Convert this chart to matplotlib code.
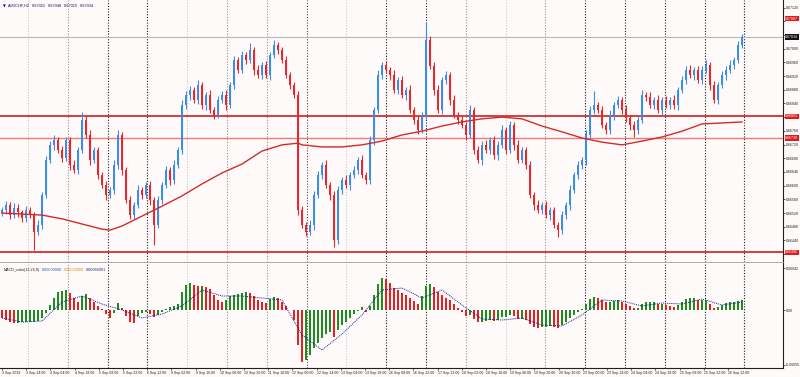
import matplotlib
matplotlib.use('Agg')
import matplotlib.pyplot as plt
import numpy as np

plt.rcParams['font.family'] = ['Liberation Sans', 'DejaVu Sans']

# ---------------- data (prices in points above 0.66000, 1 point = 0.00001) ----------------
BASE = 0.66
PT = 1e-5

closes_pts = [
    529, 543, 514, 535, 523, 505, 529, 514, 465, 485,
    573, 675, 719, 733, 704, 681, 733, 660, 646, 704,
    792, 748, 675, 704, 631, 602, 573, 587, 660, 748,
    646, 558, 514, 543, 587, 573, 602, 558, 485, 558,
    602, 646, 616, 660, 704, 835, 865, 879, 850, 894,
    835, 865, 821, 806, 850, 865, 835, 894, 967, 938,
    981, 967, 996, 938, 923, 952, 923, 981, 1011, 996,
    967, 923, 894, 865, 529, 485, 465, 485, 573, 631,
    660, 602, 573, 441, 587, 616, 602, 631, 646, 675,
    631, 616, 733, 821, 923, 952, 938, 923, 879, 908,
    865, 879, 821, 792, 762, 806, 1025, 950, 880, 821,
    908, 923, 850, 806, 792, 777, 748, 821, 704, 675,
    719, 704, 733, 689, 719, 762, 704, 777, 719, 675,
    704, 660, 573, 543, 529, 543, 514, 529, 485, 470,
    514, 543, 587, 631, 660, 675, 748, 821, 835, 821,
    777, 762, 806, 835, 850, 821, 797, 777, 762, 792,
    865, 860, 835, 850, 821, 850, 835, 850, 835, 879,
    908, 938, 923, 938, 908, 938, 952, 894, 850, 894,
    923, 938, 952, 967, 1011, 1034,
]
first_open_pts = 520

wick_up_pts = [
    10, 12, 8, 15, 10, 6, 12, 9, 10, 14,
    8, 12, 10, 15, 9, 12, 10, 8, 14, 10,
    23, 12, 15, 9, 10, 8, 12, 9, 15, 14,
    10, 8, 12, 9, 14, 8, 10, 12, 9, 11,
    10, 12, 8, 15, 9, 14, 10, 12, 8, 15,
    10, 9, 14, 8, 12, 10, 15, 9, 12, 10,
    12, 10, 20, 9, 14, 8, 12, 10, 14, 9,
    10, 12, 8, 9, 10, 12, 8, 15, 10, 12,
    10, 14, 9, 10, 12, 8, 15, 10, 12, 9,
    14, 10, 12, 8, 15, 10, 12, 9, 14, 10,
    12, 9, 14, 10, 12, 8, 50, 12, 10, 14,
    9, 12, 10, 14, 8, 12, 10, 15, 9, 12,
    10, 14, 9, 12, 10, 15, 8, 12, 10, 14,
    10, 8, 12, 9, 14, 10, 12, 8, 10, 9,
    12, 10, 14, 9, 12, 10, 15, 12, 40, 10,
    12, 10, 14, 9, 12, 10, 15, 8, 12, 10,
    14, 9, 12, 10, 15, 8, 12, 10, 14, 9,
    12, 10, 14, 9, 12, 10, 15, 8, 12, 10,
    12, 10, 14, 9, 12, 8,
]
wick_dn_pts = [
    9, 12, 10, 8, 14, 10, 12, 9, 53, 10,
    12, 8, 10, 14, 9, 12, 10, 15, 8, 12,
    10, 9, 14, 8, 12, 10, 15, 9, 12, 10,
    14, 9, 12, 10, 8, 12, 10, 15, 58, 10,
    12, 8, 14, 10, 9, 12, 10, 14, 8, 12,
    10, 14, 9, 12, 10, 8, 15, 9, 12, 10,
    9, 12, 10, 14, 8, 12, 10, 15, 9, 12,
    10, 8, 12, 9, 15, 10, 12, 9, 14, 10,
    12, 9, 14, 20, 10, 12, 9, 15, 10, 12,
    9, 12, 10, 14, 8, 12, 10, 15, 9, 12,
    10, 14, 9, 12, 10, 8, 12, 10, 14, 9,
    12, 10, 15, 9, 12, 10, 14, 8, 12, 10,
    14, 9, 12, 10, 15, 8, 12, 10, 14, 9,
    10, 12, 9, 14, 10, 12, 8, 15, 10, 20,
    12, 10, 14, 9, 12, 10, 15, 8, 12, 10,
    9, 12, 10, 14, 8, 12, 10, 15, 20, 12,
    10, 14, 9, 12, 10, 15, 8, 12, 10, 14,
    9, 12, 10, 14, 8, 12, 10, 15, 9, 12,
    10, 14, 9, 12, 10, 8,
]

# moving average (sampled at candle indices)
ma_idx = [0, 5, 10, 15, 20, 25, 27, 30, 35, 40, 45, 50, 55, 60, 65, 70, 74, 75, 80, 85,
          90, 95, 100, 105, 110, 115, 120, 125, 130, 135, 140, 145, 150, 155, 160, 165,
          170, 175, 180, 185]
ma_pts = [520, 517, 514, 503, 488, 473, 470, 482, 511, 540, 570, 605, 637, 663, 701, 719,
          724, 719, 713, 713, 719, 730, 748, 759, 774, 786, 795, 800, 795, 774, 757, 739,
          727, 719, 730, 742, 759, 780, 783, 786]

# horizontal levels
level_strong = [0.66803, 0.66406]
level_weak = [0.66739]
level_top_tag = 0.67087
bid_price = 0.67034

# MACD histogram (units of 0.00001) and signal
macd_hist = [
    -8, -10, -12, -13, -13, -12, -12, -12, -12, -11,
    -8, -3, 5, 12, 18, 19, 20, 17, 12, 8,
    14, 16, 12, 8, 4, 1, -4, -8, -3, 7,
    2, -6, -12, -13, -6, -3, -2, -4, -7, -5,
    -2, 1, 3, 4, 6, 18, 25, 27, 25, 24,
    24, 23, 21, 15, 10, 8, 10, 14, 15, 16,
    17, 18, 17, 14, 10, 8, 7, 11, 13, 12,
    8, 4, 0, -10, -35, -52, -50, -45, -38, -33,
    -28, -24, -22, -27, -20, -15, -12, -8, -4, -1,
    3, -2, 4, 15, 26, 32, 31, 27, 22, 20,
    17, 15, 12, 9, 6, 14, 24, 26, 23, 18,
    15, 12, 10, 6, 2, -2, -6, -5, -9, -12,
    -12, -11, -10, -11, -10, -7, -7, -5, -6, -9,
    -9, -10, -14, -17, -18, -17, -17, -16, -17, -18,
    -15, -12, -8, -5, -2, 1, 6, 11, 13, 12,
    10, 8, 8, 9, 10, 8, 6, 4, 2, 2,
    6, 8, 8, 8, 6, 6, 5, 4, 3, 5,
    8, 11, 12, 12, 10, 10, 10, 6, 2, 3,
    5, 7, 8, 8, 9, 10,
]
sig_idx = list(range(0, 186, 5))
macd_signal = [-8, -12, -11, 8, 14, 6, 0, -8, -4, 4, 20, 14, 14, 12, 10, -25, -40, -24, -5,
               20, 22, 12, 20, 5, -9, -10, -8, -15, -16, -5, 10, 9, 4, 7, 6, 11, 5, 8]

x_labels = ["3 Sep 2019", "3 Sep 14:00", "4 Sep 04:00", "4 Sep 18:00", "5 Sep 08:00",
            "5 Sep 22:00", "6 Sep 12:00", "9 Sep 02:00", "9 Sep 16:00", "10 Sep 06:00",
            "10 Sep 20:00", "11 Sep 10:00", "12 Sep 00:00", "12 Sep 14:00", "13 Sep 04:00",
            "13 Sep 18:00", "16 Sep 08:00", "16 Sep 22:00", "17 Sep 12:00", "18 Sep 02:00",
            "18 Sep 16:00", "19 Sep 06:00", "19 Sep 20:00", "20 Sep 10:00", "23 Sep 00:00",
            "23 Sep 14:00", "24 Sep 04:00", "24 Sep 18:00", "25 Sep 08:00", "25 Sep 22:00",
            "26 Sep 12:00"]
bars_per_label = 6.05
day_first = 6.5
bars_per_day = 9.95
day_colors = ['#c8c8c8', '#909090', '#202020', '#202020', '#c8c8c8', '#909090', '#909090',
              '#505050', '#c8c8c8', '#202020', '#202020', '#909090', '#c8c8c8', '#909090',
              '#202020', '#202020', '#202020', '#202020', '#202020']

title_parts = ["AUDCHF,H2", "0.67021", "0.67048", "0.67015", "0.67034"]
macd_parts = [("MACD_color(12,26,9)", '#202020'), ("0.00000000", '#2050c0'),
              ("0.00000000", '#e08010'), ("0.00066001", '#202060')]

# ---------------- derived ----------------
closes = BASE + np.array(closes_pts) * PT
opens = np.concatenate([[BASE + first_open_pts * PT], closes[:-1]])
highs = np.maximum(opens, closes) + np.array(wick_up_pts) * PT
lows = np.minimum(opens, closes) - np.array(wick_dn_pts) * PT
n = len(closes)
idx = np.arange(n)
ma = BASE + np.array(ma_pts) * PT
hist = np.array(macd_hist, dtype=float)

# ---------------- figure ----------------
BG = '#fffafa'
W, H = 800, 377
FS = 2.6
fig = plt.figure(figsize=(8, 3.77), dpi=100)
fig.patch.set_facecolor(BG)

right = 783 / W
ax = fig.add_axes([0, 1 - 262 / H, right, 262 / H])
ax2 = fig.add_axes([0, 1 - 368 / H, right, (368 - 263) / H])
for a in (ax, ax2):
    a.set_facecolor(BG)
    for s in ('left', 'top'):
        a.spines[s].set_visible(False)
    a.spines['right'].set_color('#202020')
    a.spines['right'].set_linewidth(0.8)
    a.set_xlim(-0.5, 195.25)
ax.spines['bottom'].set_color('#a0a0a0')
ax.spines['bottom'].set_linewidth(0.6)
ax2.spines['bottom'].set_color('#202020')
ax2.spines['bottom'].set_linewidth(0.8)

# vertical day separators
for k, c in enumerate(day_colors):
    xpos = day_first + bars_per_day * k
    for a in (ax, ax2):
        a.axvline(xpos, color=c, lw=0.8, ls=(0, (1, 1.5)), zorder=1)

# price panel
bull = '#3a8ee6'
bear = '#e8262e'
cols = [bull if c >= o else bear for o, c in zip(opens, closes)]
ax.vlines(idx, lows, highs, colors=cols, lw=0.8, zorder=3)
body_h = np.maximum(np.abs(closes - opens), 2 * PT)
ax.bar(idx, body_h, bottom=np.minimum(opens, closes), width=0.55, color=cols,
       linewidth=0, zorder=4)

ax.plot(ma_idx, ma, color='#d42a2a', lw=1.0, zorder=5)
for lv in level_strong:
    ax.axhline(lv, color='#d01e1e', lw=1.2, zorder=2)
for lv in level_weak:
    ax.axhline(lv, color='#f07878', lw=1.0, zorder=2)
ax.axhline(bid_price, color='#b8b8b8', lw=0.8, zorder=2)

ymin, ymax = BASE + 377 * PT, BASE + 1142 * PT
ax.set_ylim(ymin, ymax)
yt = np.arange(0.66400, 0.67130, 0.00040)
tags = level_strong + level_weak + [level_top_tag, bid_price]
px_per_price = 262 / (ymax - ymin)
ylabels = ["" if min(abs(v - t) for t in tags) * px_per_price < 4 else f"{v:.5f}" for v in yt]
ax.set_yticks(yt)
ax.set_yticklabels(ylabels)
ax.yaxis.tick_right()
ax.tick_params(axis='y', labelsize=FS, length=1.5, pad=0.6, width=0.5, colors='#202020')
ax.set_xticks([])

tag_kw = dict(transform=ax.get_yaxis_transform(), fontsize=FS, va='center', ha='left',
              clip_on=False, zorder=10)
for lv in level_strong + level_weak + [level_top_tag]:
    ax.text(1.003, lv, f"{lv:.5f}", color='white',
            bbox=dict(boxstyle='square,pad=0.15', fc='#e01a1a', ec='none'), **tag_kw)
ax.text(1.003, bid_price, f"{bid_price:.5f}", color='white',
        bbox=dict(boxstyle='square,pad=0.15', fc='#101010', ec='none'), **tag_kw)

# MACD panel
hcols = ['#1e8c1e' if i > 0 and hist[i] >= hist[i - 1] else '#e62020' for i in range(n)]
ax2.bar(idx, hist, width=0.5, color=hcols, linewidth=0, zorder=3)
ax2.plot(sig_idx, macd_signal, color='#1a1a90', lw=0.7, ls=(0, (1, 1)), zorder=4)
ax2.set_ylim(-58, 47)
ax2.set_yticks([-55, 0, 42])
ax2.set_yticklabels(["-0.00055", "0.00", "0.00042"])
ax2.yaxis.tick_right()
ax2.tick_params(axis='y', labelsize=FS, length=1.5, pad=0.6, width=0.5, colors='#202020')

xt = np.arange(len(x_labels)) * bars_per_label
ax2.set_xticks(xt)
ax2.set_xticklabels(x_labels)
for t in ax2.get_xticklabels():
    t.set_ha('left')
ax2.tick_params(axis='x', labelsize=2.5, length=1.5, pad=0.8, width=0.5, colors='#202020')

# header texts, placed one after another
renderer = fig.canvas.get_renderer()
fig.text(3 / W, 1 - 6 / H, "▼", fontsize=2.6, color='#10105a', va='center',
         family='DejaVu Sans')
xpix = 8
for i, part in enumerate(title_parts):
    t = fig.text(xpix / W, 1 - 6 / H, part, fontsize=2.8, color='#10105a', va='center')
    xpix += t.get_window_extent(renderer).width + 2
xpix = 4
for part, c in macd_parts:
    t = fig.text(xpix / W, 1 - 270 / H, part, fontsize=2.7, color=c, va='center')
    xpix += t.get_window_extent(renderer).width + 2

fig.savefig('out.png', dpi=100, facecolor=BG)
